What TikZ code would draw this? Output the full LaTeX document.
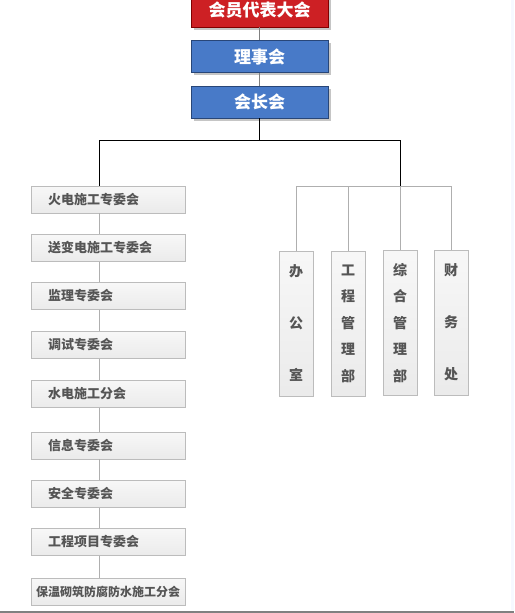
\documentclass[tikz,border=0pt]{standalone}
\usepackage{fontspec}
\usepackage{tikz}
\usetikzlibrary{positioning,calc,shadows}
\newfontfamily\cjk{Noto Sans CJK SC}
\definecolor{headred}{RGB}{205, 32, 36}
\definecolor{headblue}{RGB}{72, 122, 200}
\definecolor{edgeblue}{RGB}{40, 70, 120}
\definecolor{boxgray}{RGB}{188, 188, 188}
\definecolor{textgray}{RGB}{85, 85, 85}
\definecolor{linegray}{RGB}{175, 175, 175}
\definecolor{edgetint}{RGB}{246, 248, 255}
\begin{document}
\begin{tikzpicture}[x=1pt,y=-1pt,
    headbox/.style={draw=edgeblue,line width=0.8pt,minimum width=137pt,minimum height=32pt,
        inner sep=0pt,text=white,font=\cjk\bfseries\fontsize{17}{17}\selectfont,
        drop shadow={shadow xshift=2.5pt,shadow yshift=-2.5pt,opacity=0.45}},
    sidebox/.style={draw=boxgray,top color=gray!6,bottom color=gray!16,minimum width=154pt,
        minimum height=27pt,inner xsep=0pt,inner ysep=0pt,text width=120pt,align=left,
        text=textgray,font=\cjk\bfseries\fontsize{13}{13}\selectfont},
    deptbox/.style={draw=boxgray,top color=gray!6,bottom color=gray!16,minimum width=34pt,
        minimum height=145pt,inner sep=0pt,text=textgray,align=center},
    mainline/.style={black,line width=0.9pt},
    subline/.style={linegray,line width=0.9pt}]
    \useasboundingbox (0,0) rectangle (514,613);
    \fill[white] (0,0) rectangle (514,613);
    \fill[edgetint] (511,0) rectangle (514,610);
    \draw[gray,line width=2pt] (0,612) -- (514,612);

    % head of the association
    \node[headbox,fill=headred,draw=red!50!black,minimum height=34pt] (congress) at (259.5,10) {会员代表大会};
    \node[headbox,fill=headblue] (council) at (259.5,56.5) {理事会};
    \node[headbox,fill=headblue] (pres) at (259.5,102) {会长会};
    \draw[subline,gray] (congress) -- (council);
    \draw[subline,gray] (council) -- (pres);

    % committees on the left
    \foreach \i/\y/\txt in {1/199.5/火电施工专委会, 2/248/送变电施工专委会, 3/296/监理专委会,
        4/345/调试专委会, 5/394/水电施工分会, 6/445.5/信息专委会, 7/494/安全专委会,
        8/542/工程项目专委会}
        \node[sidebox] (l\i) at (108,\y) {\txt};
    \node[sidebox,text width=150pt,align=center,font=\cjk\bfseries\fontsize{12}{12}\selectfont] (l9) at (108,591.5) {保温砌筑防腐防水施工分会};

    % offices on the right
    \node[deptbox,font=\cjk\bfseries\fontsize{14}{52}\selectfont] (r1) at (296,323.5) {办\\公\\室};
    \node[deptbox,font=\cjk\bfseries\fontsize{14}{26.5}\selectfont] (r2) at (348,323.5) {工\\程\\管\\理\\部};
    \node[deptbox,font=\cjk\bfseries\fontsize{14}{26.5}\selectfont] (r3) at (400,323) {综\\合\\管\\理\\部};
    \node[deptbox,font=\cjk\bfseries\fontsize{14}{52}\selectfont] (r4) at (451,322.5) {财\\务\\处};

    % connectors
    \coordinate (split) at (259.5,140);
    \coordinate (leftknee) at (99,140);
    \coordinate (rightknee) at (400,140);
    \coordinate (rightbar) at (400,186);
    \draw[mainline] (pres.south) -- (split);
    \draw[mainline] (leftknee) -- (rightknee);
    \draw[mainline] (leftknee) -- (leftknee |- l1.north);
    \draw[mainline] (rightknee) -- (rightbar);
    \foreach \a/\b in {1/2,2/3,3/4,4/5,5/6,6/7,7/8,8/9}
        \draw[subline] (leftknee |- l\a.south) -- (leftknee |- l\b.north);
    \draw[subline] (rightbar -| r1) -- (rightbar -| r4);
    \foreach \k in {1,...,4}
        \draw[subline] (rightbar -| r\k) -- (r\k.north);
\end{tikzpicture}
\end{document}
